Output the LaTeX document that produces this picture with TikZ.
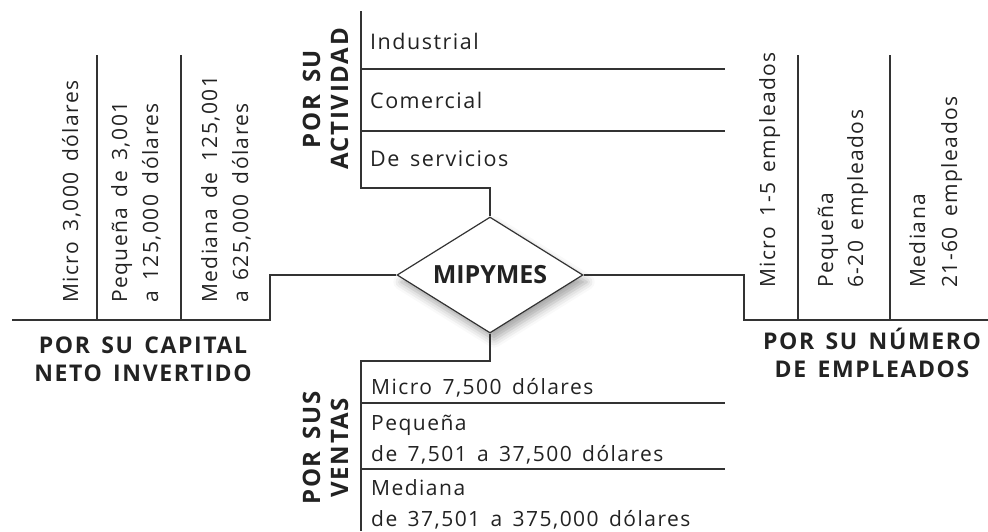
\documentclass[tikz,border=0pt]{standalone}
\usepackage{fontspec}
\setmainfont{Open Sans}
\newfontfamily\wideface[LetterSpace=7,WordSpace=1.5]{Open Sans}
\usetikzlibrary{shapes.geometric,shadows.blur}
\definecolor{lncol}{HTML}{333333}
\definecolor{txcol}{HTML}{222222}
\begin{document}
\begin{tikzpicture}[x=1pt,y=-1pt,
  ln/.style={draw=lncol, line width=1.2pt},
  small/.style={text=txcol, inner sep=0pt, font=\wideface\fontsize{21}{32}\selectfont},
  big/.style={text=txcol, inner sep=0pt, font=\wideface\fontsize{21.5}{32}\selectfont},
  hbold/.style={text=txcol, inner sep=0pt, font=\wideface\fontsize{23}{28}\selectfont\bfseries},
  vbold/.style={text=txcol, inner sep=0pt, rotate=90, anchor=base, font=\wideface\fontsize{24}{28}\selectfont\bfseries},
  vtext/.style={small, rotate=90, anchor=base west},
  dia/.style={diamond, aspect=1.6, inner sep=0pt, minimum width=186pt, minimum height=116pt,
    draw=lncol, line width=1.2pt, fill=white, text=txcol, font=\fontsize{25}{28}\selectfont\bfseries,
    blur shadow={shadow xshift=4pt, shadow yshift=-7pt, shadow blur radius=8pt, shadow opacity=35}}
]
\useasboundingbox (0,0) rectangle (988,531);

% central node
\node[dia] (m) at (490,275) {MIPYMES};

% coordinates
\coordinate (tc) at (361,188);
\coordinate (tt) at (361,11);
\coordinate (t1a) at (361,69);  \coordinate (t1b) at (725,69);
\coordinate (t2a) at (361,131); \coordinate (t2b) at (725,131);
\coordinate (bc) at (361,361);
\coordinate (bb) at (361,531);
\coordinate (b1a) at (361,403); \coordinate (b1b) at (725,403);
\coordinate (b2a) at (361,469); \coordinate (b2b) at (725,469);
\coordinate (lc) at (270,320);
\coordinate (le) at (12,320);
\coordinate (l1a) at (97,55);  \coordinate (l1b) at (97,320);
\coordinate (l2a) at (181,55); \coordinate (l2b) at (181,320);
\coordinate (rc) at (744,320);
\coordinate (re) at (988,320);
\coordinate (r1a) at (798,55);  \coordinate (r1b) at (798,320);
\coordinate (r2a) at (890,55);  \coordinate (r2b) at (890,320);

% connectors
\draw[ln] (m.north) |- (tc) -- (tt);
\draw[ln] (t1a) -- (t1b);
\draw[ln] (t2a) -- (t2b);
\draw[ln] (m.south) |- (bc) -- (bb);
\draw[ln] (b1a) -- (b1b);
\draw[ln] (b2a) -- (b2b);
\draw[ln] (m.west) -| (lc) -- (le);
\draw[ln] (l1a) -- (l1b);
\draw[ln] (l2a) -- (l2b);
\draw[ln] (m.east) -| (rc) -- (re);
\draw[ln] (r1a) -- (r1b);
\draw[ln] (r2a) -- (r2b);

% top group
\node[big, anchor=base west] (ind) at (370,49.5) {Industrial};
\node[big, anchor=base west] (com) at (370,108) {Comercial};
\node[big, anchor=base west] (ser) at (370,166.5) {De servicios};
\node[vbold] (act1) at (320,99) {POR SU};
\node[vbold] (act2) at (348,99) {ACTIVIDAD};

% bottom group
\node[small, anchor=base west] (v1) at (371,394) {Micro 7,500 dólares};
\node[small, anchor=base west] (v2) at (371,430) {Pequeña};
\node[small, anchor=base west] (v3) at (371,461.5) {de 7,501 a 37,500 dólares};
\node[small, anchor=base west] (v4) at (371,495) {Mediana};
\node[small, anchor=base west] (v5) at (371,526.5) {de 37,501 a 375,000 dólares};
\node[vbold] (ven1) at (320,448) {POR SUS};
\node[vbold] (ven2) at (348,448) {VENTAS};

% left group
\node[vtext] (c1) at (78,303) {Micro 3,000 dólares};
\node[vtext] (c2) at (127,303) {Pequeña de 3,001};
\node[vtext] (c3) at (158,303) {a 125,000 dólares};
\node[vtext] (c4) at (217,303) {Mediana de 125,001};
\node[vtext] (c5) at (248,303) {a 625,000 dólares};
\node[hbold, anchor=base] (cap1) at (143,353) {POR SU CAPITAL};
\node[hbold, anchor=base] (cap2) at (143,381.5) {NETO INVERTIDO};

% right group
\node[vtext] (e1) at (775,288) {Micro 1-5 empleados};
\node[vtext] (e2) at (833,288) {Pequeña};
\node[vtext] (e3) at (863,288) {6-20 empleados};
\node[vtext] (e4) at (925,288) {Mediana};
\node[vtext] (e5) at (957,288) {21-60 empleados};
\node[hbold, anchor=base] (emp1) at (872,349) {POR SU NÚMERO};
\node[hbold, anchor=base] (emp2) at (872,377.5) {DE EMPLEADOS};
\end{tikzpicture}
\end{document}
